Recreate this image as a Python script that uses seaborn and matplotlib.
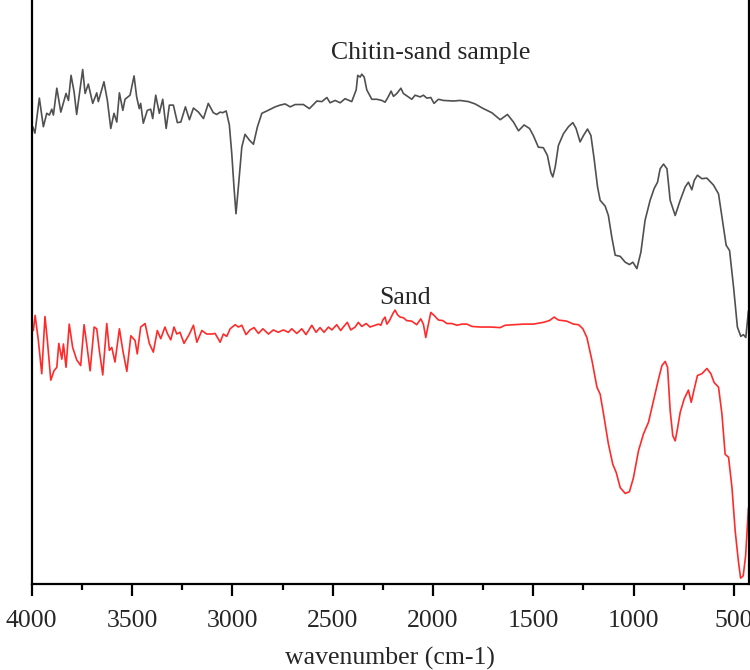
import numpy as np
import pandas as pd
import seaborn as sns
import matplotlib
matplotlib.use('Agg')
import matplotlib.pyplot as plt
from matplotlib.ticker import MultipleLocator

# Chitin-sand sample spectrum (wavenumber cm-1, relative transmittance)
chitin_wn = [3995, 3984, 3962, 3942, 3925, 3912, 3900, 3892, 3875, 3855, 3829, 3817,
             3804, 3789, 3776, 3763, 3746, 3734, 3718, 3696, 3676, 3668, 3640, 3623,
             3606, 3590, 3576, 3563, 3546, 3535, 3510, 3490, 3477, 3464, 3457, 3444,
             3424, 3407, 3397, 3382, 3364, 3347, 3330, 3314, 3294, 3274, 3257, 3234,
             3214, 3194, 3169, 3144, 3120, 3095, 3078, 3061, 3048, 3031, 3015, 3003,
             2992, 2982, 2970, 2953, 2937, 2915, 2895, 2875, 2853, 2828, 2787, 2762,
             2737, 2712, 2687, 2646, 2616, 2579, 2554, 2529, 2513, 2488, 2463, 2438,
             2405, 2383, 2375, 2363, 2355, 2343, 2330, 2305, 2280, 2255, 2239, 2225,
             2209, 2197, 2180, 2160, 2148, 2123, 2106, 2089, 2064, 2048, 2031, 2011,
             1995, 1973, 1948, 1898, 1865, 1823, 1790, 1749, 1707, 1665, 1629, 1599,
             1574, 1546, 1519, 1500, 1475, 1450, 1430, 1413, 1403, 1391, 1375, 1350,
             1325, 1303, 1287, 1267, 1250, 1230, 1213, 1197, 1180, 1167, 1142, 1126,
             1109, 1092, 1067, 1042, 1021, 1004, 984, 964, 943, 918, 898, 881,
             868, 851, 834, 818, 793, 768, 743, 727, 710, 698, 682, 660,
             635, 602, 577, 555, 539, 522, 502, 483, 466, 453, 441, 428]
chitin_t = [78.3, 77.2, 83.2, 78.3, 80.6, 80.3, 81.3, 80.3, 84.9, 80.8, 84.0, 82.8,
            87.1, 84.3, 80.4, 83.7, 88.1, 84.0, 85.6, 82.3, 84.1, 82.6, 86.0, 82.8,
            78.0, 80.6, 79.1, 84.1, 81.1, 83.0, 83.7, 87.0, 83.4, 81.4, 82.3, 78.9,
            81.1, 81.3, 79.7, 83.7, 80.6, 83.0, 78.0, 82.0, 82.0, 79.0, 79.1, 81.7,
            79.5, 81.5, 80.8, 79.7, 82.3, 80.7, 80.4, 80.8, 80.7, 81.0, 78.6, 73.7,
            68.0, 63.4, 68.0, 74.8, 77.0, 76.0, 75.3, 78.3, 80.6, 81.0, 81.7, 82.0,
            82.2, 81.7, 82.1, 82.1, 81.4, 82.7, 82.6, 83.3, 82.4, 82.8, 82.4, 83.1,
            82.6, 84.6, 87.1, 86.8, 87.3, 86.8, 84.6, 83.0, 83.0, 82.8, 82.5, 83.3,
            84.4, 83.5, 84.0, 84.9, 84.0, 83.4, 83.0, 83.7, 83.4, 83.7, 83.2, 83.3,
            82.3, 83.0, 82.8, 82.7, 82.8, 82.6, 82.2, 81.4, 80.7, 79.5, 80.4, 79.1,
            77.6, 78.6, 78.0, 76.8, 74.8, 74.7, 73.4, 70.5, 69.7, 71.4, 75.1, 77.1,
            78.3, 79.0, 78.0, 75.7, 76.8, 77.9, 76.8, 72.8, 68.0, 65.7, 64.7, 63.1,
            59.4, 56.3, 56.1, 55.1, 54.7, 55.1, 54.0, 56.8, 62.3, 65.7, 67.7, 68.8,
            71.1, 71.9, 71.1, 65.7, 63.1, 65.7, 68.0, 68.8, 67.5, 69.1, 70.0, 69.4,
            69.5, 68.3, 66.8, 61.7, 58.0, 57.1, 50.8, 44.0, 42.4, 42.7, 42.2, 46.8]

# Sand spectrum
sand_wn = [3992, 3983, 3967, 3950, 3934, 3922, 3905, 3889, 3875, 3865, 3850, 3842,
           3829, 3813, 3796, 3776, 3756, 3739, 3726, 3709, 3689, 3676, 3663, 3646,
           3626, 3613, 3601, 3585, 3563, 3546, 3526, 3506, 3485, 3474, 3457, 3435,
           3414, 3394, 3374, 3357, 3336, 3324, 3307, 3291, 3277, 3261, 3241, 3214,
           3194, 3177, 3152, 3128, 3103, 3086, 3061, 3045, 3028, 3011, 2986, 2970,
           2953, 2932, 2912, 2892, 2870, 2848, 2820, 2796, 2771, 2746, 2721, 2704,
           2679, 2654, 2633, 2604, 2583, 2563, 2543, 2521, 2504, 2480, 2460, 2447,
           2427, 2410, 2388, 2372, 2355, 2333, 2314, 2289, 2272, 2260, 2250, 2239,
           2230, 2217, 2200, 2189, 2177, 2164, 2148, 2131, 2106, 2081, 2061, 2048,
           2036, 2026, 2011, 1995, 1973, 1951, 1931, 1906, 1881, 1856, 1831, 1806,
           1765, 1715, 1665, 1641, 1599, 1549, 1500, 1450, 1420, 1396, 1375, 1333,
           1300, 1275, 1253, 1233, 1208, 1183, 1167, 1150, 1126, 1104, 1087, 1067,
           1042, 1021, 1001, 976, 951, 926, 901, 876, 859, 843, 831, 818,
           805, 793, 782, 768, 748, 727, 713, 698, 682, 660, 635, 615,
           599, 577, 560, 544, 527, 510, 494, 478, 467, 454, 442, 428]
sand_t = [43.4, 46.0, 41.7, 36.0, 45.8, 41.7, 34.9, 36.5, 37.1, 41.2, 38.5, 41.1,
          37.1, 44.5, 40.5, 38.4, 37.4, 44.4, 41.1, 36.5, 44.0, 43.7, 40.0, 35.8,
          44.6, 40.0, 40.5, 38.0, 43.7, 40.0, 36.4, 42.5, 41.7, 39.4, 44.0, 44.6,
          41.2, 39.7, 43.4, 42.0, 44.0, 42.9, 41.8, 44.0, 42.8, 43.1, 41.2, 42.8,
          44.3, 41.4, 43.4, 42.8, 42.8, 42.9, 41.4, 42.8, 42.4, 43.7, 44.4, 44.0,
          44.3, 42.7, 43.5, 43.9, 42.9, 43.7, 42.8, 43.5, 43.1, 43.5, 43.1, 43.7,
          42.9, 43.7, 42.7, 44.3, 43.1, 43.9, 43.1, 44.0, 43.5, 44.4, 43.4, 44.0,
          44.8, 43.5, 44.0, 44.8, 44.1, 44.6, 44.0, 44.3, 44.5, 44.3, 45.2, 45.7,
          44.5, 45.1, 46.3, 46.9, 46.1, 45.7, 45.6, 45.1, 45.0, 44.4, 45.4, 44.5,
          42.2, 44.0, 46.5, 46.0, 45.2, 45.1, 44.6, 44.6, 44.3, 44.5, 44.5, 44.1,
          44.0, 44.0, 43.9, 44.3, 44.4, 44.5, 44.5, 44.8, 45.1, 45.7, 45.2, 45.0,
          44.5, 44.4, 43.7, 42.2, 38.3, 33.7, 32.5, 29.1, 24.0, 20.5, 19.1, 16.5,
          15.5, 15.8, 18.2, 22.8, 25.7, 27.7, 31.4, 35.1, 37.4, 38.1, 37.1, 29.7,
          25.4, 24.5, 26.5, 29.4, 31.7, 33.2, 31.1, 33.4, 35.7, 36.0, 36.9, 36.0,
          34.5, 33.7, 29.1, 22.2, 21.7, 16.5, 9.1, 3.9, 1.0, 1.4, 4.8, 13.0]

df = pd.concat([
    pd.DataFrame({'wavenumber': chitin_wn, 'T': chitin_t, 'sample': 'Chitin-sand sample'}),
    pd.DataFrame({'wavenumber': sand_wn, 'T': sand_t, 'sample': 'Sand'}),
])

sns.set_style('ticks')
plt.rcParams['font.family'] = ['Liberation Serif', 'DejaVu Serif']

fig = plt.figure(figsize=(7.5, 6.7), dpi=100)
ax = fig.add_axes([0.0423, 0.1284, 0.9564, 0.8716])

sns.lineplot(data=df, x='wavenumber', y='T', hue='sample', sort=False,
             palette={'Chitin-sand sample': '#505050', 'Sand': '#ff2b2b'},
             linewidth=1.2, legend=False, ax=ax)

ax.set_xlim(4000, 425)
ax.set_ylim(0, 100)
ax.xaxis.set_major_locator(MultipleLocator(500))
ax.xaxis.set_minor_locator(MultipleLocator(250))
ax.set_yticks([])
ax.set_ylabel('')
ax.set_xlabel('wavenumber (cm-1)', fontsize=18.5, labelpad=11)
ax.tick_params(axis='x', which='major', direction='out', length=8.5, width=1.6,
               labelsize=18.5, pad=10, color='black')
ax.tick_params(axis='x', which='minor', direction='out', length=4.5, width=1.6, color='black')

for side in ['left', 'bottom', 'right']:
    ax.spines[side].set_linewidth(1.6)
    ax.spines[side].set_color('black')
ax.spines['top'].set_visible(False)

ax.text(2014, 90.9, 'Chitin-sand sample', fontsize=18.5, ha='center', va='center')
ax.text(2139, 48.9, 'Sand', fontsize=18.5, ha='center', va='center')

fig.savefig('out.png', dpi=100)
